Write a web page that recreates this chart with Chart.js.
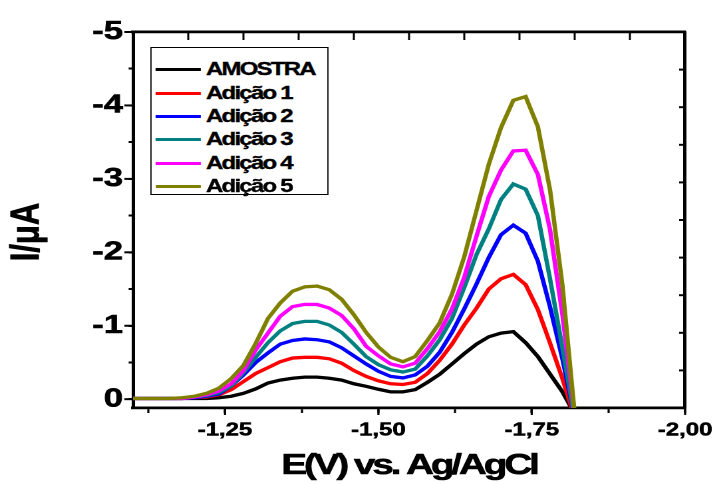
<!DOCTYPE html>
<html>
<head>
<meta charset="utf-8">
<script src="https://cdn.jsdelivr.net/npm/chart.js@4.4.1/dist/chart.umd.min.js"></script>
<style>
html,body{margin:0;padding:0;background:#fff;overflow:hidden;width:721px;height:484px}
#wrap{position:absolute;left:0;top:0;width:542px;height:484px;transform:scaleX(1.3303);transform-origin:0 0}
#chart{position:absolute;left:0;top:0}
#legend{position:absolute;left:112.8px;top:47px;width:134.5px;height:148px;border:1px solid #000;box-sizing:border-box;background:#fff}
#legend .row{position:absolute;left:0;height:20px;width:134px}
#legend .swatch{position:absolute;left:3.5px;top:8.5px;width:33.8px;height:3px}
#legend .txt{position:absolute;left:41px;top:0;line-height:20px;font-family:"Liberation Sans",Arial,sans-serif;font-weight:bold;font-size:18px;letter-spacing:-1.3px;color:#000;white-space:nowrap;-webkit-text-stroke:0.35px #000}
</style>
</head>
<body>
<div id="wrap">
  <canvas id="chart" width="542" height="484"></canvas>
  <div id="legend"></div>
</div>
<script>
// ---- data ----
const potentials = [-1.10,-1.12,-1.14,-1.16,-1.18,-1.20,-1.22,-1.24,-1.26,-1.28,
                    -1.30,-1.32,-1.34,-1.36,-1.38,-1.40,-1.42,-1.44,-1.46,-1.48,
                    -1.50,-1.52,-1.54,-1.56,-1.58,-1.60,-1.62,-1.64,-1.66,-1.68,
                    -1.70,-1.72,-1.74,-1.76,-1.78,-1.80,-1.82];

const seriesNames = ['AMOSTRA','Adição 1','Adição 2','Adição 3','Adição 4','Adição 5'];
const seriesColors = ['#000000','#ff0000','#0000ff','#008080','#ff00ff','#808000'];

const amostra = [-0.01,-0.01,-0.01,-0.01,-0.01,-0.01,-0.01,-0.02,-0.04,-0.08,
                 -0.14,-0.22,-0.26,-0.285,-0.30,-0.30,-0.285,-0.26,-0.21,-0.175,
                 -0.135,-0.10,-0.10,-0.13,-0.23,-0.34,-0.48,-0.62,-0.75,-0.85,
                 -0.90,-0.92,-0.77,-0.58,-0.34,-0.10,0.20];
const adicao1 = [-0.01,-0.01,-0.01,-0.01,-0.01,-0.02,-0.03,-0.06,-0.13,-0.24,
                 -0.35,-0.43,-0.51,-0.56,-0.57,-0.57,-0.55,-0.49,-0.39,-0.31,
                 -0.25,-0.21,-0.20,-0.23,-0.35,-0.53,-0.75,-1.01,-1.24,-1.50,
                 -1.64,-1.70,-1.56,-1.22,-0.76,-0.28,0.25];
const adicao2 = [-0.01,-0.01,-0.01,-0.01,-0.01,-0.02,-0.04,-0.07,-0.18,-0.33,
                 -0.50,-0.63,-0.75,-0.80,-0.82,-0.81,-0.78,-0.70,-0.59,-0.48,
                 -0.38,-0.31,-0.29,-0.33,-0.45,-0.64,-0.91,-1.23,-1.57,-1.93,
                 -2.24,-2.37,-2.26,-1.88,-1.25,-0.55,0.25];
const adicao3 = [-0.01,-0.01,-0.01,-0.01,-0.01,-0.03,-0.05,-0.09,-0.18,-0.36,
                 -0.57,-0.77,-0.93,-1.03,-1.06,-1.06,-1.01,-0.91,-0.75,-0.58,
                 -0.47,-0.40,-0.37,-0.41,-0.59,-0.81,-1.10,-1.52,-1.97,-2.32,
                 -2.72,-2.93,-2.86,-2.50,-1.63,-0.70,0.25];
const adicao4 = [-0.01,-0.01,-0.01,-0.01,-0.01,-0.03,-0.06,-0.11,-0.21,-0.39,
                 -0.67,-0.90,-1.13,-1.26,-1.29,-1.29,-1.24,-1.14,-0.96,-0.72,
                 -0.59,-0.48,-0.44,-0.49,-0.69,-0.92,-1.23,-1.66,-2.22,-2.76,
                 -3.12,-3.38,-3.39,-3.06,-2.30,-1.15,0.20];
const adicao5 = [-0.01,-0.01,-0.01,-0.01,-0.02,-0.04,-0.08,-0.15,-0.28,-0.46,
                 -0.76,-1.10,-1.31,-1.47,-1.53,-1.54,-1.49,-1.36,-1.15,-0.91,
                 -0.71,-0.57,-0.51,-0.58,-0.80,-1.04,-1.43,-1.94,-2.57,-3.20,
                 -3.70,-4.07,-4.12,-3.71,-2.84,-1.55,0.20];

const xMajorTicks = [-1.25,-1.50,-1.75,-2.00];
const xTickLabels = ['-1,25','-1,50','-1,75','-2,00'];
const yMajorTicks = [0,-1,-2,-3,-4,-5];
const yTickLabels = ['0','-1','-2','-3','-4','-5'];
const xTitle = 'E(V) vs. Ag/AgCl';
const yTitle = 'I/\u03bcA';

// ---- build chart ----
const allSeries = [amostra, adicao1, adicao2, adicao3, adicao4, adicao5];
const FONT = '"Liberation Sans", Arial, sans-serif';

const datasets = allSeries.map((vals, k) => ({
  label: seriesNames[k],
  data: potentials.map((x, i) => ({x: x, y: vals[i]})),
  borderColor: seriesColors[k],
  backgroundColor: seriesColors[k],
  borderWidth: 3.3,
  pointRadius: 0,
  tension: 0,
  fill: false,
  order: allSeries.length - k
}));

function labelFor(v, majors, labels) {
  for (let i = 0; i < majors.length; i++) if (Math.abs(v - majors[i]) < 1e-6) return labels[i];
  return '';
}

function wrapTitle(scale, ctx, dx, dy, spacing) {
  if (scale._wrapT) return;
  const o = scale.drawTitle;
  scale.drawTitle = function () {
    ctx.save();
    ctx.translate(dx, dy);
    if (spacing) ctx.letterSpacing = spacing;
    const f = ctx.fillText;
    ctx.lineWidth = 0.6; ctx.strokeStyle = '#000'; ctx.lineJoin = 'round';
    ctx.fillText = function (t, x, y, m) {
      f.call(this, t, x, y, m);
      this.strokeText(t, x, y, m);
    };
    o.call(this);
    delete ctx.fillText;
    ctx.restore();
  };
  scale._wrapT = true;
}

const framePlugin = {
  id: 'frame',
  beforeDraw(chart) {
    const ctx = chart.ctx;
    wrapTitle(chart.scales.y, ctx, 0, 12, null);
    wrapTitle(chart.scales.x, ctx, 0, 0, '-2.3px');
  },
  afterDraw(chart) {
    const ctx = chart.ctx, a = chart.chartArea;
    const xs = chart.scales.x, ys = chart.scales.y;
    const xt = chart.scales.xTop, yr = chart.scales.yRight;
    ctx.save();
    ctx.strokeStyle = '#000';
    // longer marks for the labelled (major) ticks
    ctx.lineWidth = 1.6;
    xMajorTicks.forEach(v => {
      const px = xs.getPixelForValue(v);
      ctx.beginPath(); ctx.moveTo(px, a.bottom); ctx.lineTo(px, a.bottom + 7); ctx.stroke();
    });
    ctx.lineWidth = 2;
    yMajorTicks.forEach(v => {
      const py = ys.getPixelForValue(v);
      ctx.beginPath(); ctx.moveTo(a.left, py); ctx.lineTo(a.left - 6.5, py); ctx.stroke();
    });
    // inward ticks on the mirrored top and right axes
    ctx.lineWidth = 1.5;
    for (let v = 1; v < 10; v++) {
      const px = xt.getPixelForValue(v);
      ctx.beginPath(); ctx.moveTo(px, a.top); ctx.lineTo(px, a.top + 8); ctx.stroke();
    }
    ctx.lineWidth = 2;
    for (let v = 1; v < 10; v++) {
      const py = yr.getPixelForValue(v);
      ctx.beginPath(); ctx.moveTo(a.right, py); ctx.lineTo(a.right - 4.5, py); ctx.stroke();
    }
    ctx.restore();
  }
};

new Chart(document.getElementById('chart'), {
  type: 'line',
  data: {datasets: datasets},
  plugins: [framePlugin],
  options: {
    responsive: false,
    animation: false,
    devicePixelRatio: 2,
    layout: {padding: {left: 0, top: 32, right: 22.6, bottom: 0}},
    plugins: {legend: {display: false}, tooltip: {enabled: false}},
    scales: {
      x: {
        type: 'linear', position: 'bottom', min: -2.0, max: -1.1, reverse: true,
        afterFit(s) { s.height = 76; },
        ticks: {stepSize: 0.125, includeBounds: false, autoSkip: false, maxRotation: 0, padding: 6.5,
                color: '#000', textStrokeColor: '#000', textStrokeWidth: 0.5,
                font: {family: FONT, size: 18, weight: 'bold', lineHeight: 1.2},
                callback: (v) => labelFor(v, xMajorTicks, xTickLabels)},
        grid: {drawOnChartArea: false, drawTicks: true, tickLength: 5, tickWidth: 1.6, tickColor: '#000', color: '#000'},
        border: {display: true, color: '#000', width: 2.7},
        title: {display: true, text: xTitle, color: '#000', padding: {top: 0, bottom: 0.5},
                font: {family: FONT, size: 29, weight: 'bold', lineHeight: 1.2}}
      },
      y: {
        type: 'linear', position: 'left', min: -5, max: 0.12, reverse: true,
        afterFit(s) { s.width = 100; },
        ticks: {stepSize: 0.5, includeBounds: false, maxTicksLimit: 20, padding: 4.2,
                color: '#000', textStrokeColor: '#000', textStrokeWidth: 0.6,
                font: {family: FONT, size: 26, weight: 'bold', lineHeight: 1.2},
                callback: (v) => labelFor(v, yMajorTicks, yTickLabels)},
        grid: {drawOnChartArea: false, drawTicks: true, tickLength: 3.3, tickWidth: 2, tickColor: '#000', color: '#000'},
        border: {display: true, color: '#000', width: 2.5},
        title: {display: true, text: yTitle, color: '#000', padding: {top: 2, bottom: 0},
                font: {family: FONT, size: 31, weight: 'bold', lineHeight: 1.2}}
      },
      xTop: {
        type: 'linear', position: 'top', min: 0, max: 10,
        afterFit(s) { s.height = 0; },
        ticks: {display: false}, grid: {display: false},
        border: {display: true, color: '#000', width: 2.7}
      },
      yRight: {
        type: 'linear', position: 'right', min: 0, max: 10,
        afterFit(s) { s.width = 0; },
        ticks: {display: false}, grid: {display: false},
        border: {display: true, color: '#000', width: 2.5}
      }
    }
  }
});

// ---- legend (HTML, from the series arrays) ----
const legendRowCenters = [21, 45, 68, 91, 115, 138];
const lg = document.getElementById('legend');
seriesNames.forEach((name, k) => {
  const row = document.createElement('div');
  row.className = 'row';
  row.style.top = (legendRowCenters[k] - 10) + 'px';
  const sw = document.createElement('div');
  sw.className = 'swatch';
  sw.style.background = seriesColors[k];
  const tx = document.createElement('div');
  tx.className = 'txt';
  tx.textContent = name;
  row.appendChild(sw); row.appendChild(tx);
  lg.appendChild(row);
});
</script>
</body>
</html>
